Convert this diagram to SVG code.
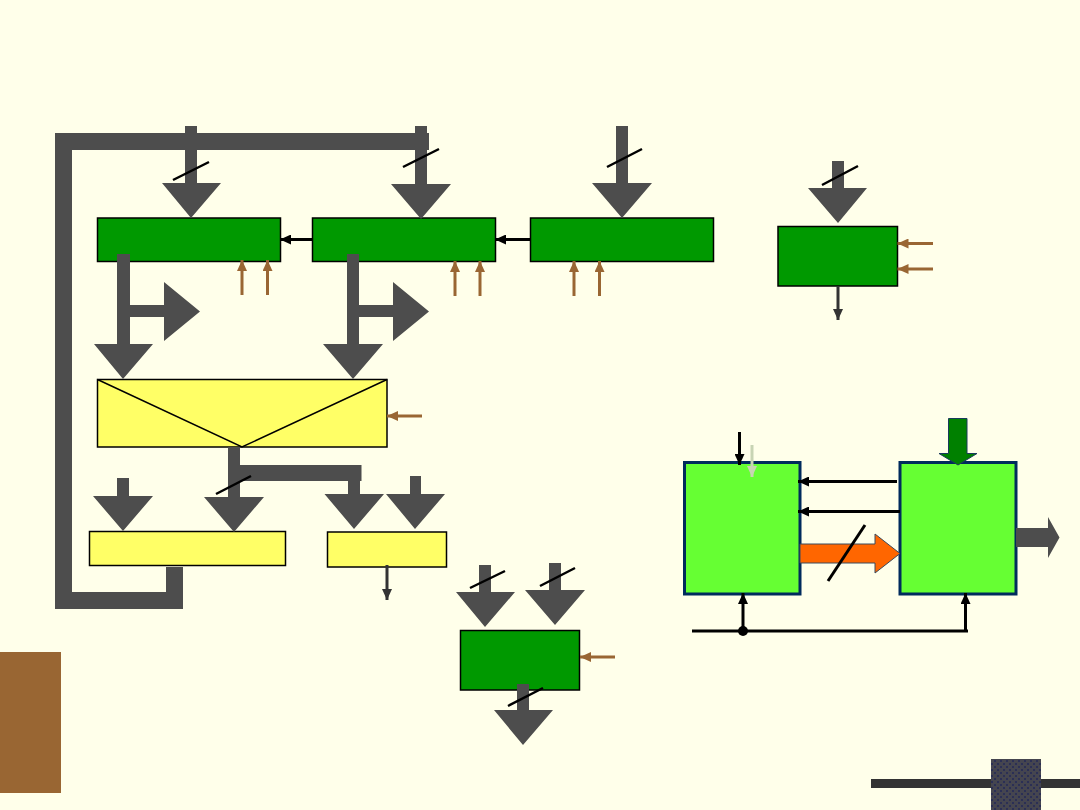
<svg xmlns="http://www.w3.org/2000/svg" width="1080" height="810" viewBox="0 0 1080 810">
  <style>
    .reg { fill: #009900; stroke: #000; stroke-width: 1.5; }
    .latch { fill: #FFFF66; stroke: #000; stroke-width: 1.5; }
    .unit { fill: #66FF33; stroke: #002B5C; stroke-width: 3; }
    .bus { fill: #4D4D4D; }
    .bar { fill: none; stroke: #4D4D4D; stroke-width: 17; }
    .tick { stroke: #000; stroke-width: 2.5; fill: none; }
    .ctl { stroke: #996633; stroke-width: 3; fill: none; marker-end: url(#brownHead); }
    .sig { stroke: #000; stroke-width: 3; fill: none; marker-end: url(#blackHead); }
    .out { stroke: #333; stroke-width: 3; fill: none; marker-end: url(#darkHead); }
  </style>
  <defs>
    <marker id="brownHead" markerUnits="userSpaceOnUse" markerWidth="11" markerHeight="10" refX="11" refY="5" orient="auto">
      <path d="M0 0L11 5L0 10Z" fill="#996633"/>
    </marker>
    <marker id="blackHead" markerUnits="userSpaceOnUse" markerWidth="11" markerHeight="10" refX="11" refY="5" orient="auto">
      <path d="M0 0L11 5L0 10Z" fill="#000"/>
    </marker>
    <marker id="darkHead" markerUnits="userSpaceOnUse" markerWidth="11" markerHeight="10" refX="11" refY="5" orient="auto">
      <path d="M0 0L11 5L0 10Z" fill="#333"/>
    </marker>
    <marker id="paleHead" markerUnits="userSpaceOnUse" markerWidth="11" markerHeight="10" refX="11" refY="5" orient="auto">
      <path d="M0 0L11 5L0 10Z" fill="#C8D4B4"/>
    </marker>
    <pattern id="speckle" patternUnits="userSpaceOnUse" width="6" height="6">
      <rect width="6" height="6" fill="#45454F"/>
      <rect x="1" y="1" width="2" height="2" fill="#2B2F55"/>
      <rect x="4" y="4" width="2" height="2" fill="#2B2F55"/>
    </pattern>
  </defs>

  <rect id="page" width="1080" height="810" fill="#FFFFEA"/>

  <!-- page decoration -->
  <rect x="0" y="652" width="61" height="141" fill="#996633"/>
  <rect x="871" y="779" width="209" height="9" fill="#333"/>
  <rect x="991" y="759" width="50" height="51" fill="url(#speckle)"/>

  <g id="reg-a"><rect class="reg" x="97.500" y="218" width="183" height="43.500"/></g>
  <g id="reg-b"><rect class="reg" x="312.500" y="218" width="183" height="43.500"/></g>
  <g id="reg-c"><rect class="reg" x="530.500" y="218" width="183" height="43.500"/></g>
  <g id="reg-d"><rect class="reg" x="778" y="226.500" width="119.500" height="59.500"/></g>
  <g id="reg-e"><rect class="reg" x="460.500" y="630.500" width="119" height="59.500"/></g>
  <g id="mux">
    <rect class="latch" x="97.500" y="379.500" width="289.500" height="67.500"/>
    <path d="M97.500 379.500L242 447L387 379.500" fill="none" stroke="#000" stroke-width="1.500"/>
  </g>
  <g id="latch-a"><rect class="latch" x="89.500" y="531.500" width="196" height="34"/></g>
  <g id="latch-b"><rect class="latch" x="327.500" y="532" width="119" height="35"/></g>
  <g id="unit-a"><rect class="unit" x="684.500" y="462.500" width="115.500" height="131.500"/></g>
  <g id="unit-b"><rect class="unit" x="900" y="462.500" width="116" height="131.500"/></g>

  <g id="connectors">
    <!-- feedback bus -->
    <path class="bar" d="M429 141.500H63.500V600.500H174.500V567"/>

    <!-- wide bus arrows -->
    <path class="bus" d="M185 126h12v57h24l-30 35l-29-35h23z"/>
    <path class="bus" d="M415 126h12v58h24l-30 35l-30-35h24z"/>
    <path class="bus" d="M616 126h12v57h24l-30 35l-30-35h24z"/>
    <path class="bus" d="M832 161h12v27h23l-29 35l-30-35h24z"/>
    <path class="bus" d="M117 254h13v90h23l-30 35l-29-35h23z"/>
    <path class="bus" d="M118 305h46v-23l36 29.500l-36 29.500v-24h-46z"/>
    <path class="bus" d="M347 254h12v90h24l-30 35l-30-35h24z"/>
    <path class="bus" d="M347 305h46v-23l36 29.500l-36 29.500v-24h-46z"/>
    <path class="bus" d="M117 478h12v18h24l-30 35l-30-35h24z"/>
    <path class="bus" d="M228 447h12v50h24l-30 35l-30-35h24z"/>
    <path class="bus" d="M240 465h121.500v16h-121.500z"/>
    <path class="bus" d="M348 481h12v13h24l-30 35l-29.500-35h23.500z"/>
    <path class="bus" d="M410 476h11v18h24l-30 35l-29-35h24z"/>
    <path class="bus" d="M479 565h12v27h24l-30 35l-29-35h23z"/>
    <path class="bus" d="M549 563h12v27h24l-30 35l-30-35h24z"/>
    <path class="bus" d="M517 684h12v26h24l-30 35l-29-35h23z"/>
    <path class="bus" d="M1016 528h32v-11l11.500 20.500l-11.500 20.500v-11h-32z"/>

    <!-- width ticks -->
    <path class="tick" d="M173 180L209 162M403 167L439 149M607 167L642 149M822 185L858 166M216 494L251 476M470 588L505 571M540 586L575 568M508 706L543 688"/>

    <!-- control inputs -->
    <path class="ctl" d="M242 295V260"/>
    <path class="ctl" d="M267.500 295V260"/>
    <path class="ctl" d="M455 296V261"/>
    <path class="ctl" d="M480 296V261"/>
    <path class="ctl" d="M574 296V261"/>
    <path class="ctl" d="M599.500 296V261"/>
    <path class="ctl" d="M933 243.500H897.500"/>
    <path class="ctl" d="M933 269H897.500"/>
    <path class="ctl" d="M422 416H387"/>
    <path class="ctl" d="M615 657H580"/>

    <!-- register links and outputs -->
    <path class="sig" d="M312 239.500H280"/>
    <path class="sig" d="M530 239.500H495"/>
    <path class="out" d="M838 286V320"/>
    <path class="out" d="M387 565V600"/>

    <!-- links between the two units -->
    <path class="sig" d="M739.500 432V465"/>
    <path d="M752 445V477" fill="none" stroke="#C8D4B4" stroke-width="3" marker-end="url(#paleHead)"/>
    <path class="sig" d="M897 481.500H798"/>
    <path class="sig" d="M900 511.500H798"/>
    <path d="M800 544h75v-10l25 19.500l-25 19.500v-10h-75z" fill="#FF6600" stroke="#3A4A5C" stroke-width="1"/>
    <path d="M828 581L865 525" fill="none" stroke="#000" stroke-width="3"/>
    <path d="M948.500 418.500h18.500v35h10l-19 11.500l-19-11.500h9.500z" fill="#008000" stroke="#1A3A5C" stroke-width="1"/>
    <path d="M692 631H968" fill="none" stroke="#000" stroke-width="3"/>
    <circle cx="743" cy="631" r="5" fill="#000"/>
    <path class="sig" d="M743 631V593"/>
    <path class="sig" d="M965.500 631V593"/>
  </g>
</svg>
